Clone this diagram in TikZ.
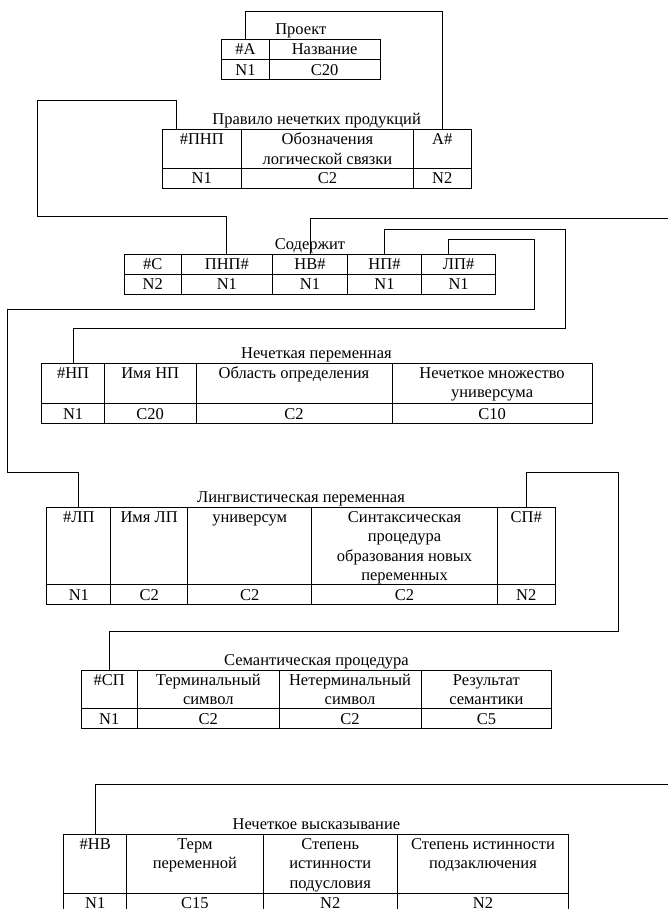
\documentclass[tikz,border=0pt]{standalone}
\usepackage{fontspec}
\setmainfont{Liberation Serif}
\usetikzlibrary{positioning}
\newcommand\cellrows[1]{\begin{tabular}[t]{@{}c@{}}#1\end{tabular}}

\begin{document}
\begin{tikzpicture}[x=1pt,y=-1pt,font=\fontsize{16.5pt}{19.4pt}\selectfont]
  \useasboundingbox (0,0) rectangle (668,909);
  \tikzstyle{CellStyle}=[draw,line width=1pt,inner sep=0pt,anchor=north]
  \tikzstyle{HeadStyle}=[CellStyle,text height=15pt,text depth=#1]
  \tikzstyle{DataStyle}=[CellStyle,minimum height=20pt]
  \tikzstyle{TitleStyle}=[anchor=base,inner sep=0pt]
  \tikzstyle{LinkStyle}=[draw,line width=0.8pt]

  \node[TitleStyle] (tproj) at (300.8,35) {Проект};
  \node[HeadStyle=5pt,minimum width=47.7pt] (aid) at (245.45,39.5) {\#A};
  \node[HeadStyle=5pt,minimum width=110.7pt] (aname) at (324.65,39.5) {Название};
  \node[DataStyle,minimum width=47.7pt] (aidt) at (245.45,59.5) {N1};
  \node[DataStyle,minimum width=110.7pt] (anamet) at (324.65,59.5) {C20};

  \node[TitleStyle] (tpnp) at (316.6,125) {Правило нечетких продукций};
  \node[HeadStyle=23.5pt,minimum width=79.6pt] (pnpid) at (201.8,129.5) {\#ПНП};
  \node[HeadStyle=23.5pt,minimum width=171.7pt] (pnpsign) at (327.45,129.5) {\cellrows{Обозначения\\логической связки}};
  \node[HeadStyle=23.5pt,minimum width=57.9pt] (pnpa) at (442.25,129.5) {A\#};
  \node[DataStyle,minimum width=79.6pt] (pnpidt) at (201.8,168) {N1};
  \node[DataStyle,minimum width=171.7pt] (pnpsignt) at (327.45,168) {C2};
  \node[DataStyle,minimum width=57.9pt] (pnpat) at (442.25,168) {N2};

  \node[TitleStyle] (tso) at (310,249) {Содержит};
  \node[HeadStyle=5.5pt,minimum width=56.6pt] (soid) at (152.7,253.5) {\#С};
  \node[HeadStyle=5.5pt,minimum width=91.7pt] (sopnp) at (226.85,253.5) {ПНП\#};
  \node[HeadStyle=5.5pt,minimum width=74.5pt] (sonv) at (309.95,253.5) {НВ\#};
  \node[HeadStyle=5.5pt,minimum width=74.6pt] (sonp) at (384.5,253.5) {НП\#};
  \node[HeadStyle=5.5pt,minimum width=73.7pt] (solp) at (458.65,253.5) {ЛП\#};
  \node[DataStyle,minimum width=56.6pt] (soidt) at (152.7,274) {N2};
  \node[DataStyle,minimum width=91.7pt] (sopnpt) at (226.85,274) {N1};
  \node[DataStyle,minimum width=74.5pt] (sonvt) at (309.95,274) {N1};
  \node[DataStyle,minimum width=74.6pt] (sonpt) at (384.5,274) {N1};
  \node[DataStyle,minimum width=73.7pt] (solpt) at (458.65,274) {N1};

  \node[TitleStyle] (tnp) at (316.4,358) {Нечеткая переменная};
  \node[HeadStyle=25.6pt,minimum width=62.6pt] (npid) at (73.1,362.7) {\#НП};
  \node[HeadStyle=25.6pt,minimum width=91.6pt] (npname) at (150.2,362.7) {Имя НП};
  \node[HeadStyle=25.6pt,minimum width=196pt] (nparea) at (294,362.7) {Область определения};
  \node[HeadStyle=25.6pt,minimum width=200.2pt] (npset) at (492.1,362.7) {\cellrows{Нечеткое множество\\универсума}};
  \node[DataStyle,minimum width=62.6pt] (npidt) at (73.1,403.3) {N1};
  \node[DataStyle,minimum width=91.6pt] (npnamet) at (150.2,403.3) {C20};
  \node[DataStyle,minimum width=196pt] (npareat) at (294,403.3) {C2};
  \node[DataStyle,minimum width=200.2pt] (npsett) at (492.1,403.3) {C10};

  \node[TitleStyle] (tlp) at (301,502) {Лингвистическая переменная};
  \node[HeadStyle=62.6pt,minimum width=63.9pt] (lpid) at (78.85,506.7) {\#ЛП};
  \node[HeadStyle=62.6pt,minimum width=76.7pt] (lpname) at (149.15,506.7) {Имя ЛП};
  \node[HeadStyle=62.6pt,minimum width=124.4pt] (lpuni) at (249.7,506.7) {универсум};
  \node[HeadStyle=62.6pt,minimum width=185.3pt] (lpsyn) at (404.55,506.7) {\cellrows{Синтаксическая\\процедура\\образования новых\\переменных}};
  \node[HeadStyle=62.6pt,minimum width=58pt] (lpsp) at (526.2,506.7) {СП\#};
  \node[DataStyle,minimum width=63.9pt] (lpidt) at (78.85,584.3) {N1};
  \node[DataStyle,minimum width=76.7pt] (lpnamet) at (149.15,584.3) {C2};
  \node[DataStyle,minimum width=124.4pt] (lpunit) at (249.7,584.3) {C2};
  \node[DataStyle,minimum width=185.3pt] (lpsynt) at (404.55,584.3) {C2};
  \node[DataStyle,minimum width=58pt] (lpspt) at (526.2,584.3) {N2};

  \node[TitleStyle] (tsp) at (316.4,665.5) {Семантическая процедура};
  \node[HeadStyle=23.3pt,minimum width=56.6pt] (spid) at (109.3,670) {\#СП};
  \node[HeadStyle=23.3pt,minimum width=141.4pt] (spterm) at (208.3,670) {\cellrows{Терминальный\\символ}};
  \node[HeadStyle=23.3pt,minimum width=142pt] (spnterm) at (350,670) {\cellrows{Нетерминальный\\символ}};
  \node[HeadStyle=23.3pt,minimum width=130.8pt] (spres) at (486.4,670) {\cellrows{Результат\\семантики}};
  \node[DataStyle,minimum width=56.6pt] (spidt) at (109.3,708.3) {N1};
  \node[DataStyle,minimum width=141.4pt] (sptermt) at (208.3,708.3) {C2};
  \node[DataStyle,minimum width=142pt] (spntermt) at (350,708.3) {C2};
  \node[DataStyle,minimum width=130.8pt] (sprest) at (486.4,708.3) {C5};

  \node[TitleStyle] (tnv) at (316.4,829.5) {Нечеткое высказывание};
  \node[HeadStyle=43.7pt,minimum width=62.6pt] (nvid) at (95.2,834) {\#НВ};
  \node[HeadStyle=43.7pt,minimum width=136.8pt] (nvterm) at (194.9,834) {\cellrows{Терм\\переменной}};
  \node[HeadStyle=43.7pt,minimum width=133.8pt] (nvcond) at (330.2,834) {\cellrows{Степень\\истинности\\подусловия}};
  \node[HeadStyle=43.7pt,minimum width=171.7pt] (nvconc) at (482.95,834) {\cellrows{Степень истинности\\подзаключения}};
  \node[DataStyle,minimum width=62.6pt] (nvidt) at (95.2,892.7) {N1};
  \node[DataStyle,minimum width=136.8pt] (nvtermt) at (194.9,892.7) {C15};
  \node[DataStyle,minimum width=133.8pt] (nvcondt) at (330.2,892.7) {N2};
  \node[DataStyle,minimum width=171.7pt] (nvconct) at (482.95,892.7) {N2};

  \draw[LinkStyle] (aid.north) |- (pnpa.north |- 0,11) -- (pnpa.north);
  \draw[LinkStyle] ([xshift=-25pt]pnpid.north) |- (37.5,100.7) |- (sopnp.north |- 0,216.7) -- (sopnp.north);
  \draw[LinkStyle] (sonv.north) |- (672,218.3) |- (nvid.north |- 0,784.3) -- (nvid.north);
  \draw[LinkStyle] (sonp.north) |- (565.8,229.3) |- (npid.north |- 0,328.3) -- (npid.north);
  \draw[LinkStyle] ([xshift=-10pt]solp.north) |- (533.9,239.3) |- (7.7,309.3) |- (lpid.north |- 0,472.7) -- (lpid.north);
  \draw[LinkStyle] (lpsp.north) |- (618.7,472.7) |- (spid.north |- 0,631) -- (spid.north);
\end{tikzpicture}
\end{document}
